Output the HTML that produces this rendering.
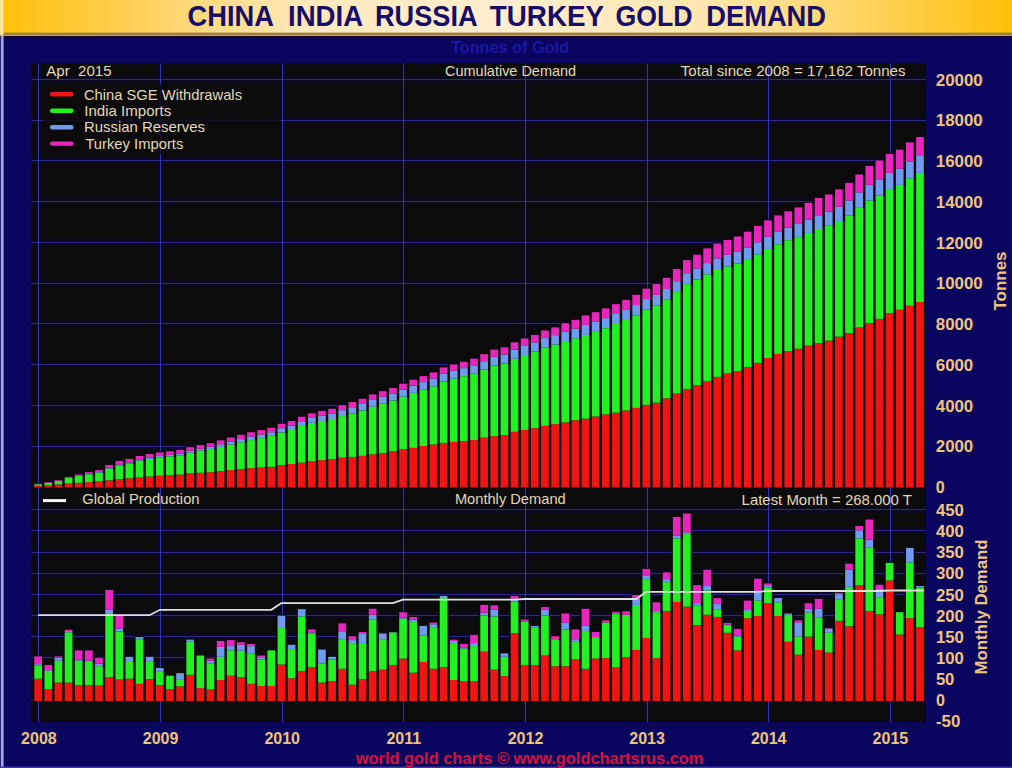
<!DOCTYPE html><html><head><meta charset="utf-8"><style>html,body{margin:0;padding:0;width:1012px;height:768px;overflow:hidden;background:#0a0660;}body{position:relative;font-family:"Liberation Sans",sans-serif;}</style></head><body><svg width="1012" height="768" viewBox="0 0 1012 768" style="position:absolute;left:0;top:0">
<defs><linearGradient id="hg" x1="0" x2="1" y1="0" y2="0"><stop offset="0" stop-color="#ffbf08"/><stop offset="0.12" stop-color="#ffcf50"/><stop offset="0.3" stop-color="#ffe8bc"/><stop offset="0.5" stop-color="#ffeed0"/><stop offset="0.7" stop-color="#ffe6b0"/><stop offset="0.88" stop-color="#ffd050"/><stop offset="1" stop-color="#ffbf08"/></linearGradient><filter id="bl" x="-5%" y="-20%" width="110%" height="140%"><feGaussianBlur stdDeviation="0.7"/></filter></defs>
<rect x="0" y="0" width="1012" height="768" fill="#0a0660"/>
<rect x="0" y="0" width="1012" height="33" fill="url(#hg)"/>
<rect x="0" y="32.6" width="1012" height="2.4" fill="#a0803c"/>
<rect x="0" y="35" width="1012" height="0.9" fill="#e4cc98"/>
<rect x="0" y="35.9" width="1012" height="1.4" fill="#1a0626"/>
<rect x="0" y="0" width="3.5" height="35" fill="#f8e49a"/>
<rect x="0.8" y="36" width="2.8" height="732" fill="#a4a4e4"/>
<rect x="1010.5" y="36" width="1.5" height="732" fill="#100a70"/>
<rect x="0" y="766.6" width="1012" height="1.4" fill="#3c3aa4"/>
<rect x="31.5" y="63.5" width="894.5" height="658.5" fill="#0c0b0c"/>
<g stroke="#0a0920" stroke-width="6"><line x1="31.5" x2="926" y1="446.5" y2="446.5"/><line x1="31.5" x2="926" y1="405.5" y2="405.5"/><line x1="31.5" x2="926" y1="364.5" y2="364.5"/><line x1="31.5" x2="926" y1="323.5" y2="323.5"/><line x1="31.5" x2="926" y1="283.5" y2="283.5"/><line x1="31.5" x2="926" y1="242.5" y2="242.5"/><line x1="31.5" x2="926" y1="201.5" y2="201.5"/><line x1="31.5" x2="926" y1="160.5" y2="160.5"/><line x1="31.5" x2="926" y1="120.5" y2="120.5"/><line x1="31.5" x2="926" y1="79.5" y2="79.5"/><line x1="31.5" x2="926" y1="699.5" y2="699.5"/><line x1="31.5" x2="926" y1="678.5" y2="678.5"/><line x1="31.5" x2="926" y1="657.5" y2="657.5"/><line x1="31.5" x2="926" y1="636.5" y2="636.5"/><line x1="31.5" x2="926" y1="615.5" y2="615.5"/><line x1="31.5" x2="926" y1="594.5" y2="594.5"/><line x1="31.5" x2="926" y1="573.5" y2="573.5"/><line x1="31.5" x2="926" y1="552.5" y2="552.5"/><line x1="31.5" x2="926" y1="530.5" y2="530.5"/><line x1="31.5" x2="926" y1="509.5" y2="509.5"/><line x1="38.5" x2="38.5" y1="63.5" y2="722"/><line x1="160.5" x2="160.5" y1="63.5" y2="722"/><line x1="282.5" x2="282.5" y1="63.5" y2="722"/><line x1="403.5" x2="403.5" y1="63.5" y2="722"/><line x1="525.5" x2="525.5" y1="63.5" y2="722"/><line x1="647.5" x2="647.5" y1="63.5" y2="722"/><line x1="768.5" x2="768.5" y1="63.5" y2="722"/><line x1="890.5" x2="890.5" y1="63.5" y2="722"/></g>
<g stroke="#2c2a84" stroke-width="1"><line x1="31.5" x2="926" y1="446.5" y2="446.5"/><line x1="31.5" x2="926" y1="405.5" y2="405.5"/><line x1="31.5" x2="926" y1="364.5" y2="364.5"/><line x1="31.5" x2="926" y1="323.5" y2="323.5"/><line x1="31.5" x2="926" y1="283.5" y2="283.5"/><line x1="31.5" x2="926" y1="242.5" y2="242.5"/><line x1="31.5" x2="926" y1="201.5" y2="201.5"/><line x1="31.5" x2="926" y1="160.5" y2="160.5"/><line x1="31.5" x2="926" y1="120.5" y2="120.5"/><line x1="31.5" x2="926" y1="79.5" y2="79.5"/><line x1="31.5" x2="926" y1="699.5" y2="699.5"/><line x1="31.5" x2="926" y1="678.5" y2="678.5"/><line x1="31.5" x2="926" y1="657.5" y2="657.5"/><line x1="31.5" x2="926" y1="636.5" y2="636.5"/><line x1="31.5" x2="926" y1="615.5" y2="615.5"/><line x1="31.5" x2="926" y1="594.5" y2="594.5"/><line x1="31.5" x2="926" y1="573.5" y2="573.5"/><line x1="31.5" x2="926" y1="552.5" y2="552.5"/><line x1="31.5" x2="926" y1="530.5" y2="530.5"/><line x1="31.5" x2="926" y1="509.5" y2="509.5"/></g>
<g stroke="#3636a8" stroke-width="1"><line x1="38.5" x2="38.5" y1="63.5" y2="722"/><line x1="160.5" x2="160.5" y1="63.5" y2="722"/><line x1="282.5" x2="282.5" y1="63.5" y2="722"/><line x1="403.5" x2="403.5" y1="63.5" y2="722"/><line x1="525.5" x2="525.5" y1="63.5" y2="722"/><line x1="647.5" x2="647.5" y1="63.5" y2="722"/><line x1="768.5" x2="768.5" y1="63.5" y2="722"/><line x1="890.5" x2="890.5" y1="63.5" y2="722"/></g>
<g fill="#0a0a0a"><rect x="33.00" y="482.78" width="10.3" height="4.72"/><rect x="43.14" y="481.14" width="10.3" height="6.36"/><rect x="53.27" y="479.09" width="10.3" height="8.41"/><rect x="63.41" y="475.78" width="10.3" height="11.72"/><rect x="73.54" y="473.45" width="10.3" height="14.05"/><rect x="83.68" y="471.11" width="10.3" height="16.39"/><rect x="93.82" y="469.12" width="10.3" height="18.38"/><rect x="103.95" y="463.92" width="10.3" height="23.58"/><rect x="114.09" y="459.93" width="10.3" height="27.57"/><rect x="124.22" y="457.91" width="10.3" height="29.59"/><rect x="134.36" y="454.94" width="10.3" height="32.56"/><rect x="144.50" y="452.91" width="10.3" height="34.59"/><rect x="154.63" y="451.41" width="10.3" height="36.09"/><rect x="164.77" y="450.28" width="10.3" height="37.22"/><rect x="174.90" y="449.02" width="10.3" height="38.48"/><rect x="185.04" y="446.18" width="10.3" height="41.32"/><rect x="195.18" y="444.09" width="10.3" height="43.41"/><rect x="205.31" y="442.14" width="10.3" height="45.36"/><rect x="215.45" y="439.36" width="10.3" height="48.14"/><rect x="225.58" y="436.53" width="10.3" height="50.97"/><rect x="235.72" y="433.81" width="10.3" height="53.69"/><rect x="245.86" y="431.17" width="10.3" height="56.33"/><rect x="255.99" y="429.08" width="10.3" height="58.42"/><rect x="266.13" y="426.75" width="10.3" height="60.75"/><rect x="276.26" y="422.76" width="10.3" height="64.74"/><rect x="286.40" y="420.10" width="10.3" height="67.40"/><rect x="296.54" y="415.74" width="10.3" height="71.76"/><rect x="306.67" y="412.34" width="10.3" height="75.16"/><rect x="316.81" y="409.90" width="10.3" height="77.60"/><rect x="326.94" y="407.81" width="10.3" height="79.69"/><rect x="337.08" y="404.12" width="10.3" height="83.38"/><rect x="347.22" y="401.05" width="10.3" height="86.45"/><rect x="357.35" y="397.77" width="10.3" height="89.73"/><rect x="367.49" y="393.40" width="10.3" height="94.10"/><rect x="377.62" y="390.18" width="10.3" height="97.32"/><rect x="387.76" y="386.91" width="10.3" height="100.59"/><rect x="397.90" y="382.69" width="10.3" height="104.81"/><rect x="408.03" y="378.71" width="10.3" height="108.79"/><rect x="418.17" y="375.14" width="10.3" height="112.36"/><rect x="428.30" y="371.42" width="10.3" height="116.08"/><rect x="438.44" y="366.44" width="10.3" height="121.06"/><rect x="448.58" y="363.52" width="10.3" height="123.98"/><rect x="458.71" y="360.82" width="10.3" height="126.68"/><rect x="468.85" y="357.68" width="10.3" height="129.82"/><rect x="478.98" y="353.13" width="10.3" height="134.37"/><rect x="489.12" y="348.59" width="10.3" height="138.91"/><rect x="499.26" y="346.33" width="10.3" height="141.17"/><rect x="509.39" y="341.34" width="10.3" height="146.16"/><rect x="519.53" y="337.48" width="10.3" height="150.02"/><rect x="529.66" y="333.92" width="10.3" height="153.58"/><rect x="539.80" y="329.46" width="10.3" height="158.04"/><rect x="549.94" y="326.39" width="10.3" height="161.11"/><rect x="560.07" y="322.23" width="10.3" height="165.27"/><rect x="570.21" y="318.84" width="10.3" height="168.66"/><rect x="580.34" y="314.46" width="10.3" height="173.04"/><rect x="590.48" y="311.18" width="10.3" height="176.32"/><rect x="600.62" y="307.36" width="10.3" height="180.14"/><rect x="610.75" y="303.13" width="10.3" height="184.37"/><rect x="620.89" y="298.87" width="10.3" height="188.63"/><rect x="631.02" y="293.85" width="10.3" height="193.65"/><rect x="641.16" y="287.58" width="10.3" height="199.92"/><rect x="651.30" y="282.90" width="10.3" height="204.60"/><rect x="661.43" y="276.79" width="10.3" height="210.71"/><rect x="671.57" y="268.06" width="10.3" height="219.44"/><rect x="681.70" y="259.17" width="10.3" height="228.33"/><rect x="691.84" y="253.68" width="10.3" height="233.82"/><rect x="701.98" y="247.45" width="10.3" height="240.05"/><rect x="712.11" y="242.56" width="10.3" height="244.94"/><rect x="722.25" y="238.86" width="10.3" height="248.64"/><rect x="732.38" y="235.44" width="10.3" height="252.06"/><rect x="742.52" y="230.68" width="10.3" height="256.82"/><rect x="752.66" y="224.88" width="10.3" height="262.62"/><rect x="762.79" y="219.30" width="10.3" height="268.20"/><rect x="772.93" y="214.42" width="10.3" height="273.08"/><rect x="783.06" y="210.27" width="10.3" height="277.23"/><rect x="793.20" y="206.44" width="10.3" height="281.06"/><rect x="803.34" y="201.80" width="10.3" height="285.70"/><rect x="813.47" y="196.96" width="10.3" height="290.54"/><rect x="823.61" y="193.50" width="10.3" height="294.00"/><rect x="833.74" y="188.37" width="10.3" height="299.13"/><rect x="843.88" y="181.86" width="10.3" height="305.64"/><rect x="854.02" y="173.56" width="10.3" height="313.94"/><rect x="864.15" y="164.95" width="10.3" height="322.55"/><rect x="874.29" y="159.43" width="10.3" height="328.07"/><rect x="884.42" y="152.88" width="10.3" height="334.62"/><rect x="894.56" y="148.67" width="10.3" height="338.83"/><rect x="904.70" y="141.40" width="10.3" height="346.10"/><rect x="914.83" y="135.95" width="10.3" height="351.55"/></g>
<rect x="34.30" y="485.80" width="7.7" height="1.70" fill="#f01414"/><rect x="34.30" y="484.21" width="7.7" height="1.59" fill="#22f022"/><rect x="34.30" y="484.15" width="7.7" height="0.06" fill="#6e9af0"/><rect x="34.30" y="483.78" width="7.7" height="0.37" fill="#e826be"/><rect x="44.44" y="485.26" width="7.7" height="2.24" fill="#f01414"/><rect x="44.44" y="482.85" width="7.7" height="2.41" fill="#22f022"/><rect x="44.44" y="482.75" width="7.7" height="0.10" fill="#6e9af0"/><rect x="44.44" y="482.14" width="7.7" height="0.61" fill="#e826be"/><rect x="54.57" y="484.41" width="7.7" height="3.09" fill="#f01414"/><rect x="54.57" y="481.01" width="7.7" height="3.40" fill="#22f022"/><rect x="54.57" y="480.76" width="7.7" height="0.24" fill="#6e9af0"/><rect x="54.57" y="480.09" width="7.7" height="0.67" fill="#e826be"/><rect x="64.71" y="483.56" width="7.7" height="3.94" fill="#f01414"/><rect x="64.71" y="477.82" width="7.7" height="5.74" fill="#22f022"/><rect x="64.71" y="477.51" width="7.7" height="0.31" fill="#6e9af0"/><rect x="64.71" y="476.78" width="7.7" height="0.73" fill="#e826be"/><rect x="74.84" y="482.84" width="7.7" height="4.66" fill="#f01414"/><rect x="74.84" y="475.97" width="7.7" height="6.86" fill="#22f022"/><rect x="74.84" y="475.63" width="7.7" height="0.35" fill="#6e9af0"/><rect x="74.84" y="474.45" width="7.7" height="1.18" fill="#e826be"/><rect x="84.98" y="482.11" width="7.7" height="5.39" fill="#f01414"/><rect x="84.98" y="474.19" width="7.7" height="7.92" fill="#22f022"/><rect x="84.98" y="473.78" width="7.7" height="0.41" fill="#6e9af0"/><rect x="84.98" y="472.11" width="7.7" height="1.67" fill="#e826be"/><rect x="95.12" y="481.40" width="7.7" height="6.10" fill="#f01414"/><rect x="95.12" y="472.60" width="7.7" height="8.80" fill="#22f022"/><rect x="95.12" y="472.08" width="7.7" height="0.53" fill="#6e9af0"/><rect x="95.12" y="470.12" width="7.7" height="1.95" fill="#e826be"/><rect x="105.25" y="480.31" width="7.7" height="7.19" fill="#f01414"/><rect x="105.25" y="468.54" width="7.7" height="11.77" fill="#22f022"/><rect x="105.25" y="467.81" width="7.7" height="0.73" fill="#6e9af0"/><rect x="105.25" y="464.92" width="7.7" height="2.89" fill="#e826be"/><rect x="115.39" y="479.32" width="7.7" height="8.18" fill="#f01414"/><rect x="115.39" y="465.31" width="7.7" height="14.01" fill="#22f022"/><rect x="115.39" y="464.43" width="7.7" height="0.88" fill="#6e9af0"/><rect x="115.39" y="460.93" width="7.7" height="3.50" fill="#e826be"/><rect x="125.52" y="478.29" width="7.7" height="9.21" fill="#f01414"/><rect x="125.52" y="463.52" width="7.7" height="14.76" fill="#22f022"/><rect x="125.52" y="462.41" width="7.7" height="1.12" fill="#6e9af0"/><rect x="125.52" y="458.91" width="7.7" height="3.50" fill="#e826be"/><rect x="135.66" y="477.50" width="7.7" height="10.00" fill="#f01414"/><rect x="135.66" y="460.66" width="7.7" height="16.84" fill="#22f022"/><rect x="135.66" y="459.44" width="7.7" height="1.22" fill="#6e9af0"/><rect x="135.66" y="455.94" width="7.7" height="3.50" fill="#e826be"/><rect x="145.80" y="476.49" width="7.7" height="11.01" fill="#f01414"/><rect x="145.80" y="458.88" width="7.7" height="17.61" fill="#22f022"/><rect x="145.80" y="457.41" width="7.7" height="1.47" fill="#6e9af0"/><rect x="145.80" y="453.91" width="7.7" height="3.50" fill="#e826be"/><rect x="155.93" y="475.76" width="7.7" height="11.74" fill="#f01414"/><rect x="155.93" y="457.56" width="7.7" height="18.20" fill="#22f022"/><rect x="155.93" y="455.91" width="7.7" height="1.65" fill="#6e9af0"/><rect x="155.93" y="452.41" width="7.7" height="3.50" fill="#e826be"/><rect x="166.07" y="475.22" width="7.7" height="12.28" fill="#f01414"/><rect x="166.07" y="456.42" width="7.7" height="18.80" fill="#22f022"/><rect x="166.07" y="454.78" width="7.7" height="1.65" fill="#6e9af0"/><rect x="166.07" y="451.28" width="7.7" height="3.50" fill="#e826be"/><rect x="176.20" y="474.56" width="7.7" height="12.94" fill="#f01414"/><rect x="176.20" y="455.45" width="7.7" height="19.10" fill="#22f022"/><rect x="176.20" y="453.52" width="7.7" height="1.93" fill="#6e9af0"/><rect x="176.20" y="450.02" width="7.7" height="3.50" fill="#e826be"/><rect x="186.34" y="473.34" width="7.7" height="14.16" fill="#f01414"/><rect x="186.34" y="452.71" width="7.7" height="20.63" fill="#22f022"/><rect x="186.34" y="450.68" width="7.7" height="2.04" fill="#6e9af0"/><rect x="186.34" y="447.18" width="7.7" height="3.50" fill="#e826be"/><rect x="196.48" y="472.76" width="7.7" height="14.74" fill="#f01414"/><rect x="196.48" y="450.62" width="7.7" height="22.14" fill="#22f022"/><rect x="196.48" y="448.59" width="7.7" height="2.03" fill="#6e9af0"/><rect x="196.48" y="445.09" width="7.7" height="3.50" fill="#e826be"/><rect x="206.61" y="472.23" width="7.7" height="15.27" fill="#f01414"/><rect x="206.61" y="448.92" width="7.7" height="23.32" fill="#22f022"/><rect x="206.61" y="446.74" width="7.7" height="2.18" fill="#6e9af0"/><rect x="206.61" y="443.14" width="7.7" height="3.60" fill="#e826be"/><rect x="216.75" y="471.26" width="7.7" height="16.24" fill="#f01414"/><rect x="216.75" y="446.89" width="7.7" height="24.38" fill="#22f022"/><rect x="216.75" y="444.24" width="7.7" height="2.65" fill="#6e9af0"/><rect x="216.75" y="440.36" width="7.7" height="3.89" fill="#e826be"/><rect x="226.88" y="470.09" width="7.7" height="17.41" fill="#f01414"/><rect x="226.88" y="444.55" width="7.7" height="25.54" fill="#22f022"/><rect x="226.88" y="441.70" width="7.7" height="2.85" fill="#6e9af0"/><rect x="226.88" y="437.53" width="7.7" height="4.17" fill="#e826be"/><rect x="237.02" y="468.98" width="7.7" height="18.52" fill="#f01414"/><rect x="237.02" y="442.24" width="7.7" height="26.74" fill="#22f022"/><rect x="237.02" y="439.11" width="7.7" height="3.13" fill="#6e9af0"/><rect x="237.02" y="434.81" width="7.7" height="4.29" fill="#e826be"/><rect x="247.16" y="468.19" width="7.7" height="19.31" fill="#f01414"/><rect x="247.16" y="440.07" width="7.7" height="28.12" fill="#22f022"/><rect x="247.16" y="436.57" width="7.7" height="3.50" fill="#6e9af0"/><rect x="247.16" y="432.17" width="7.7" height="4.40" fill="#e826be"/><rect x="257.29" y="467.50" width="7.7" height="20.00" fill="#f01414"/><rect x="257.29" y="438.16" width="7.7" height="29.34" fill="#22f022"/><rect x="257.29" y="434.56" width="7.7" height="3.60" fill="#6e9af0"/><rect x="257.29" y="430.08" width="7.7" height="4.48" fill="#e826be"/><rect x="267.43" y="466.82" width="7.7" height="20.68" fill="#f01414"/><rect x="267.43" y="435.83" width="7.7" height="30.99" fill="#22f022"/><rect x="267.43" y="432.22" width="7.7" height="3.60" fill="#6e9af0"/><rect x="267.43" y="427.75" width="7.7" height="4.48" fill="#e826be"/><rect x="277.56" y="465.12" width="7.7" height="22.38" fill="#f01414"/><rect x="277.56" y="432.43" width="7.7" height="32.68" fill="#22f022"/><rect x="277.56" y="428.24" width="7.7" height="4.19" fill="#6e9af0"/><rect x="277.56" y="423.76" width="7.7" height="4.48" fill="#e826be"/><rect x="287.70" y="464.04" width="7.7" height="23.46" fill="#f01414"/><rect x="287.70" y="429.97" width="7.7" height="34.07" fill="#22f022"/><rect x="287.70" y="425.57" width="7.7" height="4.40" fill="#6e9af0"/><rect x="287.70" y="421.10" width="7.7" height="4.48" fill="#e826be"/><rect x="297.84" y="462.61" width="7.7" height="24.89" fill="#f01414"/><rect x="297.84" y="425.96" width="7.7" height="36.65" fill="#22f022"/><rect x="297.84" y="421.22" width="7.7" height="4.74" fill="#6e9af0"/><rect x="297.84" y="416.74" width="7.7" height="4.48" fill="#e826be"/><rect x="307.97" y="461.00" width="7.7" height="26.50" fill="#f01414"/><rect x="307.97" y="422.77" width="7.7" height="38.24" fill="#22f022"/><rect x="307.97" y="417.96" width="7.7" height="4.80" fill="#6e9af0"/><rect x="307.97" y="413.34" width="7.7" height="4.62" fill="#e826be"/><rect x="318.11" y="460.13" width="7.7" height="27.37" fill="#f01414"/><rect x="318.11" y="421.00" width="7.7" height="39.13" fill="#22f022"/><rect x="318.11" y="415.52" width="7.7" height="5.47" fill="#6e9af0"/><rect x="318.11" y="410.90" width="7.7" height="4.62" fill="#e826be"/><rect x="328.24" y="459.19" width="7.7" height="28.31" fill="#f01414"/><rect x="328.24" y="419.02" width="7.7" height="40.17" fill="#22f022"/><rect x="328.24" y="413.43" width="7.7" height="5.60" fill="#6e9af0"/><rect x="328.24" y="408.81" width="7.7" height="4.62" fill="#e826be"/><rect x="338.38" y="457.67" width="7.7" height="29.83" fill="#f01414"/><rect x="338.38" y="416.09" width="7.7" height="41.58" fill="#22f022"/><rect x="338.38" y="410.15" width="7.7" height="5.94" fill="#6e9af0"/><rect x="338.38" y="405.12" width="7.7" height="5.03" fill="#e826be"/><rect x="348.52" y="456.89" width="7.7" height="30.61" fill="#f01414"/><rect x="348.52" y="413.34" width="7.7" height="43.55" fill="#22f022"/><rect x="348.52" y="407.26" width="7.7" height="6.08" fill="#6e9af0"/><rect x="348.52" y="402.05" width="7.7" height="5.21" fill="#e826be"/><rect x="358.65" y="455.86" width="7.7" height="31.64" fill="#f01414"/><rect x="358.65" y="410.60" width="7.7" height="45.26" fill="#22f022"/><rect x="358.65" y="404.04" width="7.7" height="6.55" fill="#6e9af0"/><rect x="358.65" y="398.77" width="7.7" height="5.27" fill="#e826be"/><rect x="368.79" y="454.43" width="7.7" height="33.07" fill="#f01414"/><rect x="368.79" y="406.73" width="7.7" height="47.70" fill="#22f022"/><rect x="368.79" y="399.95" width="7.7" height="6.78" fill="#6e9af0"/><rect x="368.79" y="394.40" width="7.7" height="5.56" fill="#e826be"/><rect x="378.92" y="452.95" width="7.7" height="34.55" fill="#f01414"/><rect x="378.92" y="403.80" width="7.7" height="49.15" fill="#22f022"/><rect x="378.92" y="396.78" width="7.7" height="7.02" fill="#6e9af0"/><rect x="378.92" y="391.18" width="7.7" height="5.60" fill="#e826be"/><rect x="389.06" y="451.24" width="7.7" height="36.26" fill="#f01414"/><rect x="389.06" y="400.54" width="7.7" height="50.69" fill="#22f022"/><rect x="389.06" y="393.50" width="7.7" height="7.04" fill="#6e9af0"/><rect x="389.06" y="387.91" width="7.7" height="5.60" fill="#e826be"/><rect x="399.20" y="449.22" width="7.7" height="38.28" fill="#f01414"/><rect x="399.20" y="396.64" width="7.7" height="52.58" fill="#22f022"/><rect x="399.20" y="389.56" width="7.7" height="7.08" fill="#6e9af0"/><rect x="399.20" y="383.69" width="7.7" height="5.86" fill="#e826be"/><rect x="409.33" y="447.88" width="7.7" height="39.62" fill="#f01414"/><rect x="409.33" y="392.89" width="7.7" height="54.99" fill="#22f022"/><rect x="409.33" y="385.69" width="7.7" height="7.20" fill="#6e9af0"/><rect x="409.33" y="379.71" width="7.7" height="5.98" fill="#e826be"/><rect x="419.47" y="446.03" width="7.7" height="41.47" fill="#f01414"/><rect x="419.47" y="389.78" width="7.7" height="56.25" fill="#22f022"/><rect x="419.47" y="382.13" width="7.7" height="7.65" fill="#6e9af0"/><rect x="419.47" y="376.14" width="7.7" height="5.98" fill="#e826be"/><rect x="429.60" y="444.50" width="7.7" height="43.00" fill="#f01414"/><rect x="429.60" y="386.28" width="7.7" height="58.22" fill="#22f022"/><rect x="429.60" y="378.49" width="7.7" height="7.79" fill="#6e9af0"/><rect x="429.60" y="372.42" width="7.7" height="6.06" fill="#e826be"/><rect x="439.74" y="442.89" width="7.7" height="44.61" fill="#f01414"/><rect x="439.74" y="381.40" width="7.7" height="61.50" fill="#22f022"/><rect x="439.74" y="373.50" width="7.7" height="7.90" fill="#6e9af0"/><rect x="439.74" y="367.44" width="7.7" height="6.06" fill="#e826be"/><rect x="449.88" y="441.90" width="7.7" height="45.60" fill="#f01414"/><rect x="449.88" y="378.69" width="7.7" height="63.21" fill="#22f022"/><rect x="449.88" y="370.65" width="7.7" height="8.04" fill="#6e9af0"/><rect x="449.88" y="364.52" width="7.7" height="6.13" fill="#e826be"/><rect x="460.01" y="440.96" width="7.7" height="46.54" fill="#f01414"/><rect x="460.01" y="376.21" width="7.7" height="64.75" fill="#22f022"/><rect x="460.01" y="368.13" width="7.7" height="8.08" fill="#6e9af0"/><rect x="460.01" y="361.82" width="7.7" height="6.31" fill="#e826be"/><rect x="470.15" y="440.02" width="7.7" height="47.48" fill="#f01414"/><rect x="470.15" y="373.60" width="7.7" height="66.42" fill="#22f022"/><rect x="470.15" y="365.38" width="7.7" height="8.22" fill="#6e9af0"/><rect x="470.15" y="358.68" width="7.7" height="6.70" fill="#e826be"/><rect x="480.28" y="437.68" width="7.7" height="49.82" fill="#f01414"/><rect x="480.28" y="369.55" width="7.7" height="68.13" fill="#22f022"/><rect x="480.28" y="361.19" width="7.7" height="8.36" fill="#6e9af0"/><rect x="480.28" y="354.13" width="7.7" height="7.06" fill="#e826be"/><rect x="490.42" y="436.20" width="7.7" height="51.30" fill="#f01414"/><rect x="490.42" y="365.54" width="7.7" height="70.66" fill="#22f022"/><rect x="490.42" y="356.85" width="7.7" height="8.69" fill="#6e9af0"/><rect x="490.42" y="349.59" width="7.7" height="7.26" fill="#e826be"/><rect x="500.56" y="435.02" width="7.7" height="52.48" fill="#f01414"/><rect x="500.56" y="363.45" width="7.7" height="71.57" fill="#22f022"/><rect x="500.56" y="354.59" width="7.7" height="8.85" fill="#6e9af0"/><rect x="500.56" y="347.33" width="7.7" height="7.26" fill="#e826be"/><rect x="510.69" y="431.80" width="7.7" height="55.70" fill="#f01414"/><rect x="510.69" y="358.73" width="7.7" height="73.08" fill="#22f022"/><rect x="510.69" y="349.75" width="7.7" height="8.97" fill="#6e9af0"/><rect x="510.69" y="342.34" width="7.7" height="7.41" fill="#e826be"/><rect x="520.83" y="429.98" width="7.7" height="57.52" fill="#f01414"/><rect x="520.83" y="354.96" width="7.7" height="75.02" fill="#22f022"/><rect x="520.83" y="345.97" width="7.7" height="8.99" fill="#6e9af0"/><rect x="520.83" y="338.48" width="7.7" height="7.49" fill="#e826be"/><rect x="530.96" y="428.16" width="7.7" height="59.34" fill="#f01414"/><rect x="530.96" y="351.46" width="7.7" height="76.70" fill="#22f022"/><rect x="530.96" y="342.40" width="7.7" height="9.06" fill="#6e9af0"/><rect x="530.96" y="334.92" width="7.7" height="7.49" fill="#e826be"/><rect x="541.10" y="425.89" width="7.7" height="61.61" fill="#f01414"/><rect x="541.10" y="347.41" width="7.7" height="78.48" fill="#22f022"/><rect x="541.10" y="338.07" width="7.7" height="9.34" fill="#6e9af0"/><rect x="541.10" y="330.46" width="7.7" height="7.61" fill="#e826be"/><rect x="551.24" y="424.13" width="7.7" height="63.37" fill="#f01414"/><rect x="551.24" y="344.48" width="7.7" height="79.65" fill="#22f022"/><rect x="551.24" y="335.14" width="7.7" height="9.34" fill="#6e9af0"/><rect x="551.24" y="327.39" width="7.7" height="7.75" fill="#e826be"/><rect x="561.37" y="422.37" width="7.7" height="65.13" fill="#f01414"/><rect x="561.37" y="341.08" width="7.7" height="81.29" fill="#22f022"/><rect x="561.37" y="331.42" width="7.7" height="9.67" fill="#6e9af0"/><rect x="561.37" y="323.23" width="7.7" height="8.18" fill="#e826be"/><rect x="571.51" y="420.28" width="7.7" height="67.22" fill="#f01414"/><rect x="571.51" y="338.27" width="7.7" height="82.01" fill="#22f022"/><rect x="571.51" y="328.49" width="7.7" height="9.79" fill="#6e9af0"/><rect x="571.51" y="319.84" width="7.7" height="8.65" fill="#e826be"/><rect x="581.64" y="418.64" width="7.7" height="68.86" fill="#f01414"/><rect x="581.64" y="334.96" width="7.7" height="83.69" fill="#22f022"/><rect x="581.64" y="324.90" width="7.7" height="10.05" fill="#6e9af0"/><rect x="581.64" y="315.46" width="7.7" height="9.44" fill="#e826be"/><rect x="591.78" y="416.51" width="7.7" height="70.99" fill="#f01414"/><rect x="591.78" y="331.92" width="7.7" height="84.59" fill="#22f022"/><rect x="591.78" y="321.87" width="7.7" height="10.05" fill="#6e9af0"/><rect x="591.78" y="312.18" width="7.7" height="9.69" fill="#e826be"/><rect x="601.92" y="414.37" width="7.7" height="73.13" fill="#f01414"/><rect x="601.92" y="328.20" width="7.7" height="86.17" fill="#22f022"/><rect x="601.92" y="318.15" width="7.7" height="10.05" fill="#6e9af0"/><rect x="601.92" y="308.36" width="7.7" height="9.79" fill="#e826be"/><rect x="612.05" y="412.67" width="7.7" height="74.83" fill="#f01414"/><rect x="612.05" y="324.05" width="7.7" height="88.62" fill="#22f022"/><rect x="612.05" y="314.00" width="7.7" height="10.05" fill="#6e9af0"/><rect x="612.05" y="304.13" width="7.7" height="9.87" fill="#e826be"/><rect x="622.19" y="410.48" width="7.7" height="77.02" fill="#f01414"/><rect x="622.19" y="319.96" width="7.7" height="90.52" fill="#22f022"/><rect x="622.19" y="309.91" width="7.7" height="10.05" fill="#6e9af0"/><rect x="622.19" y="299.87" width="7.7" height="10.03" fill="#e826be"/><rect x="632.32" y="407.94" width="7.7" height="79.56" fill="#f01414"/><rect x="632.32" y="315.40" width="7.7" height="92.54" fill="#22f022"/><rect x="632.32" y="305.06" width="7.7" height="10.34" fill="#6e9af0"/><rect x="632.32" y="294.85" width="7.7" height="10.22" fill="#e826be"/><rect x="642.46" y="404.84" width="7.7" height="82.66" fill="#f01414"/><rect x="642.46" y="309.62" width="7.7" height="95.22" fill="#22f022"/><rect x="642.46" y="299.10" width="7.7" height="10.52" fill="#6e9af0"/><rect x="642.46" y="288.58" width="7.7" height="10.52" fill="#e826be"/><rect x="652.60" y="402.69" width="7.7" height="84.81" fill="#f01414"/><rect x="652.60" y="305.41" width="7.7" height="97.29" fill="#22f022"/><rect x="652.60" y="294.83" width="7.7" height="10.58" fill="#6e9af0"/><rect x="652.60" y="283.90" width="7.7" height="10.93" fill="#e826be"/><rect x="662.73" y="398.31" width="7.7" height="89.19" fill="#f01414"/><rect x="662.73" y="299.77" width="7.7" height="98.54" fill="#22f022"/><rect x="662.73" y="289.05" width="7.7" height="10.72" fill="#6e9af0"/><rect x="662.73" y="277.79" width="7.7" height="11.25" fill="#e826be"/><rect x="672.87" y="393.49" width="7.7" height="94.01" fill="#f01414"/><rect x="672.87" y="292.06" width="7.7" height="101.44" fill="#22f022"/><rect x="672.87" y="281.19" width="7.7" height="10.87" fill="#6e9af0"/><rect x="672.87" y="269.06" width="7.7" height="12.13" fill="#e826be"/><rect x="683.00" y="388.90" width="7.7" height="98.60" fill="#f01414"/><rect x="683.00" y="284.14" width="7.7" height="104.76" fill="#22f022"/><rect x="683.00" y="273.19" width="7.7" height="10.95" fill="#6e9af0"/><rect x="683.00" y="260.17" width="7.7" height="13.02" fill="#e826be"/><rect x="693.14" y="385.19" width="7.7" height="102.31" fill="#f01414"/><rect x="693.14" y="279.60" width="7.7" height="105.59" fill="#22f022"/><rect x="693.14" y="268.55" width="7.7" height="11.05" fill="#6e9af0"/><rect x="693.14" y="254.68" width="7.7" height="13.88" fill="#e826be"/><rect x="703.28" y="380.99" width="7.7" height="106.51" fill="#f01414"/><rect x="703.28" y="274.35" width="7.7" height="106.63" fill="#22f022"/><rect x="703.28" y="263.10" width="7.7" height="11.25" fill="#6e9af0"/><rect x="703.28" y="248.45" width="7.7" height="14.65" fill="#e826be"/><rect x="713.41" y="376.89" width="7.7" height="110.61" fill="#f01414"/><rect x="713.41" y="270.00" width="7.7" height="106.89" fill="#22f022"/><rect x="713.41" y="258.50" width="7.7" height="11.50" fill="#6e9af0"/><rect x="713.41" y="243.56" width="7.7" height="14.94" fill="#e826be"/><rect x="723.55" y="373.54" width="7.7" height="113.96" fill="#f01414"/><rect x="723.55" y="266.44" width="7.7" height="107.10" fill="#22f022"/><rect x="723.55" y="254.88" width="7.7" height="11.56" fill="#6e9af0"/><rect x="723.55" y="239.86" width="7.7" height="15.02" fill="#e826be"/><rect x="733.68" y="371.02" width="7.7" height="116.48" fill="#f01414"/><rect x="733.68" y="263.39" width="7.7" height="107.64" fill="#22f022"/><rect x="733.68" y="251.77" width="7.7" height="11.62" fill="#6e9af0"/><rect x="733.68" y="236.44" width="7.7" height="15.32" fill="#e826be"/><rect x="743.82" y="366.98" width="7.7" height="120.52" fill="#f01414"/><rect x="743.82" y="259.11" width="7.7" height="107.87" fill="#22f022"/><rect x="743.82" y="247.41" width="7.7" height="11.70" fill="#6e9af0"/><rect x="743.82" y="231.68" width="7.7" height="15.73" fill="#e826be"/><rect x="753.96" y="362.84" width="7.7" height="124.66" fill="#f01414"/><rect x="753.96" y="254.35" width="7.7" height="108.49" fill="#22f022"/><rect x="753.96" y="242.22" width="7.7" height="12.13" fill="#6e9af0"/><rect x="753.96" y="225.88" width="7.7" height="16.34" fill="#e826be"/><rect x="764.09" y="358.09" width="7.7" height="129.41" fill="#f01414"/><rect x="764.09" y="248.96" width="7.7" height="109.13" fill="#22f022"/><rect x="764.09" y="236.73" width="7.7" height="12.23" fill="#6e9af0"/><rect x="764.09" y="220.30" width="7.7" height="16.42" fill="#e826be"/><rect x="774.23" y="353.95" width="7.7" height="133.55" fill="#f01414"/><rect x="774.23" y="244.28" width="7.7" height="109.67" fill="#22f022"/><rect x="774.23" y="231.84" width="7.7" height="12.43" fill="#6e9af0"/><rect x="774.23" y="215.42" width="7.7" height="16.42" fill="#e826be"/><rect x="784.36" y="351.03" width="7.7" height="136.47" fill="#f01414"/><rect x="784.36" y="240.19" width="7.7" height="110.84" fill="#22f022"/><rect x="784.36" y="227.69" width="7.7" height="12.49" fill="#6e9af0"/><rect x="784.36" y="211.27" width="7.7" height="16.42" fill="#e826be"/><rect x="794.50" y="348.72" width="7.7" height="138.78" fill="#f01414"/><rect x="794.50" y="237.13" width="7.7" height="111.58" fill="#22f022"/><rect x="794.50" y="223.99" width="7.7" height="13.15" fill="#6e9af0"/><rect x="794.50" y="207.44" width="7.7" height="16.54" fill="#e826be"/><rect x="804.64" y="345.55" width="7.7" height="141.95" fill="#f01414"/><rect x="804.64" y="232.94" width="7.7" height="112.61" fill="#22f022"/><rect x="804.64" y="219.61" width="7.7" height="13.33" fill="#6e9af0"/><rect x="804.64" y="202.80" width="7.7" height="16.81" fill="#e826be"/><rect x="814.77" y="343.02" width="7.7" height="144.48" fill="#f01414"/><rect x="814.77" y="228.99" width="7.7" height="114.02" fill="#22f022"/><rect x="814.77" y="215.24" width="7.7" height="13.76" fill="#6e9af0"/><rect x="814.77" y="197.96" width="7.7" height="17.28" fill="#e826be"/><rect x="824.91" y="340.61" width="7.7" height="146.89" fill="#f01414"/><rect x="824.91" y="225.76" width="7.7" height="114.85" fill="#22f022"/><rect x="824.91" y="211.80" width="7.7" height="13.96" fill="#6e9af0"/><rect x="824.91" y="194.50" width="7.7" height="17.30" fill="#e826be"/><rect x="835.04" y="336.69" width="7.7" height="150.81" fill="#f01414"/><rect x="835.04" y="220.96" width="7.7" height="115.73" fill="#22f022"/><rect x="835.04" y="206.73" width="7.7" height="14.22" fill="#6e9af0"/><rect x="835.04" y="189.37" width="7.7" height="17.36" fill="#e826be"/><rect x="845.18" y="333.03" width="7.7" height="154.47" fill="#f01414"/><rect x="845.18" y="215.54" width="7.7" height="117.49" fill="#22f022"/><rect x="845.18" y="200.50" width="7.7" height="15.04" fill="#6e9af0"/><rect x="845.18" y="182.86" width="7.7" height="17.64" fill="#e826be"/><rect x="855.32" y="327.43" width="7.7" height="160.07" fill="#f01414"/><rect x="855.32" y="207.83" width="7.7" height="119.60" fill="#22f022"/><rect x="855.32" y="192.40" width="7.7" height="15.43" fill="#6e9af0"/><rect x="855.32" y="174.56" width="7.7" height="17.85" fill="#e826be"/><rect x="865.45" y="323.04" width="7.7" height="164.46" fill="#f01414"/><rect x="865.45" y="200.56" width="7.7" height="122.48" fill="#22f022"/><rect x="865.45" y="184.75" width="7.7" height="15.81" fill="#6e9af0"/><rect x="865.45" y="165.95" width="7.7" height="18.80" fill="#e826be"/><rect x="875.59" y="318.82" width="7.7" height="168.68" fill="#f01414"/><rect x="875.59" y="195.64" width="7.7" height="123.18" fill="#22f022"/><rect x="875.59" y="179.44" width="7.7" height="16.20" fill="#6e9af0"/><rect x="875.59" y="160.43" width="7.7" height="19.01" fill="#e826be"/><rect x="885.72" y="312.99" width="7.7" height="174.51" fill="#f01414"/><rect x="885.72" y="189.09" width="7.7" height="123.90" fill="#22f022"/><rect x="885.72" y="172.89" width="7.7" height="16.20" fill="#6e9af0"/><rect x="885.72" y="153.88" width="7.7" height="19.01" fill="#e826be"/><rect x="895.86" y="309.72" width="7.7" height="177.78" fill="#f01414"/><rect x="895.86" y="184.88" width="7.7" height="124.85" fill="#22f022"/><rect x="895.86" y="168.68" width="7.7" height="16.20" fill="#6e9af0"/><rect x="895.86" y="149.67" width="7.7" height="19.01" fill="#e826be"/><rect x="906.00" y="305.68" width="7.7" height="181.82" fill="#f01414"/><rect x="906.00" y="178.30" width="7.7" height="127.38" fill="#22f022"/><rect x="906.00" y="161.41" width="7.7" height="16.89" fill="#6e9af0"/><rect x="906.00" y="142.40" width="7.7" height="19.01" fill="#e826be"/><rect x="916.13" y="302.07" width="7.7" height="185.43" fill="#f01414"/><rect x="916.13" y="172.91" width="7.7" height="129.16" fill="#22f022"/><rect x="916.13" y="155.96" width="7.7" height="16.95" fill="#6e9af0"/><rect x="916.13" y="136.95" width="7.7" height="19.01" fill="#e826be"/>
<g fill="#0a0a0a"><rect x="33.00" y="655.38" width="10.3" height="45.62"/><rect x="43.14" y="663.96" width="10.3" height="37.04"/><rect x="53.27" y="655.38" width="10.3" height="45.62"/><rect x="63.41" y="628.79" width="10.3" height="72.21"/><rect x="73.54" y="649.38" width="10.3" height="51.62"/><rect x="83.68" y="649.38" width="10.3" height="51.62"/><rect x="93.82" y="656.67" width="10.3" height="44.33"/><rect x="103.95" y="588.89" width="10.3" height="112.11"/><rect x="114.09" y="614.63" width="10.3" height="86.37"/><rect x="124.22" y="655.81" width="10.3" height="45.19"/><rect x="134.36" y="636.08" width="10.3" height="64.92"/><rect x="144.50" y="655.81" width="10.3" height="45.19"/><rect x="154.63" y="666.97" width="10.3" height="34.03"/><rect x="164.77" y="674.69" width="10.3" height="26.31"/><rect x="174.90" y="672.12" width="10.3" height="28.88"/><rect x="185.04" y="638.65" width="10.3" height="62.35"/><rect x="195.18" y="654.53" width="10.3" height="46.47"/><rect x="205.31" y="657.53" width="10.3" height="43.47"/><rect x="215.45" y="639.94" width="10.3" height="61.06"/><rect x="225.58" y="639.08" width="10.3" height="61.92"/><rect x="235.72" y="641.23" width="10.3" height="59.77"/><rect x="245.86" y="642.94" width="10.3" height="58.06"/><rect x="255.99" y="654.53" width="10.3" height="46.47"/><rect x="266.13" y="649.38" width="10.3" height="51.62"/><rect x="276.26" y="614.63" width="10.3" height="86.37"/><rect x="286.40" y="643.80" width="10.3" height="57.20"/><rect x="296.54" y="608.19" width="10.3" height="92.81"/><rect x="306.67" y="628.36" width="10.3" height="72.64"/><rect x="316.81" y="648.52" width="10.3" height="52.48"/><rect x="326.94" y="655.81" width="10.3" height="45.19"/><rect x="337.08" y="622.35" width="10.3" height="78.65"/><rect x="347.22" y="635.22" width="10.3" height="65.78"/><rect x="357.35" y="630.93" width="10.3" height="70.07"/><rect x="367.49" y="607.76" width="10.3" height="93.24"/><rect x="377.62" y="632.22" width="10.3" height="68.78"/><rect x="387.76" y="630.93" width="10.3" height="70.07"/><rect x="397.90" y="611.20" width="10.3" height="89.80"/><rect x="408.03" y="615.92" width="10.3" height="85.08"/><rect x="418.17" y="624.92" width="10.3" height="76.08"/><rect x="428.30" y="621.49" width="10.3" height="79.51"/><rect x="438.44" y="594.89" width="10.3" height="106.11"/><rect x="448.58" y="638.65" width="10.3" height="62.35"/><rect x="458.71" y="642.94" width="10.3" height="58.06"/><rect x="468.85" y="633.93" width="10.3" height="67.07"/><rect x="478.98" y="603.90" width="10.3" height="97.10"/><rect x="489.12" y="604.33" width="10.3" height="96.67"/><rect x="499.26" y="652.38" width="10.3" height="48.62"/><rect x="509.39" y="594.89" width="10.3" height="106.11"/><rect x="519.53" y="618.49" width="10.3" height="82.51"/><rect x="529.66" y="624.92" width="10.3" height="76.08"/><rect x="539.80" y="606.05" width="10.3" height="94.95"/><rect x="549.94" y="635.22" width="10.3" height="65.78"/><rect x="560.07" y="612.48" width="10.3" height="88.52"/><rect x="570.21" y="628.36" width="10.3" height="72.64"/><rect x="580.34" y="607.76" width="10.3" height="93.24"/><rect x="590.48" y="630.93" width="10.3" height="70.07"/><rect x="600.62" y="619.35" width="10.3" height="81.65"/><rect x="610.75" y="610.77" width="10.3" height="90.23"/><rect x="620.89" y="610.34" width="10.3" height="90.66"/><rect x="631.02" y="594.04" width="10.3" height="106.96"/><rect x="641.16" y="567.87" width="10.3" height="133.13"/><rect x="651.30" y="601.33" width="10.3" height="99.67"/><rect x="661.43" y="571.30" width="10.3" height="129.70"/><rect x="671.57" y="515.96" width="10.3" height="185.04"/><rect x="681.70" y="512.53" width="10.3" height="188.47"/><rect x="691.84" y="584.17" width="10.3" height="116.83"/><rect x="701.98" y="568.73" width="10.3" height="132.27"/><rect x="712.11" y="597.04" width="10.3" height="103.96"/><rect x="722.25" y="621.92" width="10.3" height="79.08"/><rect x="732.38" y="627.93" width="10.3" height="73.07"/><rect x="742.52" y="599.61" width="10.3" height="101.39"/><rect x="752.66" y="577.74" width="10.3" height="123.26"/><rect x="762.79" y="582.45" width="10.3" height="118.55"/><rect x="772.93" y="597.04" width="10.3" height="103.96"/><rect x="783.06" y="612.48" width="10.3" height="88.52"/><rect x="793.20" y="619.35" width="10.3" height="81.65"/><rect x="803.34" y="602.19" width="10.3" height="98.81"/><rect x="813.47" y="597.90" width="10.3" height="103.10"/><rect x="823.61" y="627.07" width="10.3" height="73.93"/><rect x="833.74" y="591.89" width="10.3" height="109.11"/><rect x="843.88" y="562.72" width="10.3" height="138.28"/><rect x="854.02" y="524.97" width="10.3" height="176.03"/><rect x="864.15" y="518.53" width="10.3" height="182.47"/><rect x="874.29" y="583.74" width="10.3" height="117.26"/><rect x="884.42" y="561.86" width="10.3" height="139.14"/><rect x="894.56" y="611.20" width="10.3" height="89.80"/><rect x="904.70" y="546.85" width="10.3" height="154.15"/><rect x="914.83" y="585.03" width="10.3" height="115.97"/></g>
<rect x="34.30" y="678.69" width="7.7" height="22.31" fill="#f01414"/><rect x="34.30" y="665.39" width="7.7" height="13.30" fill="#22f022"/><rect x="34.30" y="664.11" width="7.7" height="1.29" fill="#6e9af0"/><rect x="34.30" y="656.38" width="7.7" height="7.72" fill="#e826be"/><rect x="44.44" y="688.99" width="7.7" height="12.01" fill="#f01414"/><rect x="44.44" y="670.97" width="7.7" height="18.02" fill="#22f022"/><rect x="44.44" y="670.11" width="7.7" height="0.86" fill="#6e9af0"/><rect x="44.44" y="664.96" width="7.7" height="5.15" fill="#e826be"/><rect x="54.57" y="682.55" width="7.7" height="18.45" fill="#f01414"/><rect x="54.57" y="660.67" width="7.7" height="21.88" fill="#22f022"/><rect x="54.57" y="657.67" width="7.7" height="3.00" fill="#6e9af0"/><rect x="54.57" y="656.38" width="7.7" height="1.29" fill="#e826be"/><rect x="64.71" y="682.55" width="7.7" height="18.45" fill="#f01414"/><rect x="64.71" y="632.36" width="7.7" height="50.19" fill="#22f022"/><rect x="64.71" y="631.07" width="7.7" height="1.29" fill="#6e9af0"/><rect x="64.71" y="629.79" width="7.7" height="1.29" fill="#e826be"/><rect x="74.84" y="685.13" width="7.7" height="15.87" fill="#f01414"/><rect x="74.84" y="660.67" width="7.7" height="24.45" fill="#22f022"/><rect x="74.84" y="659.82" width="7.7" height="0.86" fill="#6e9af0"/><rect x="74.84" y="650.38" width="7.7" height="9.44" fill="#e826be"/><rect x="84.98" y="685.13" width="7.7" height="15.87" fill="#f01414"/><rect x="84.98" y="661.96" width="7.7" height="23.17" fill="#22f022"/><rect x="84.98" y="660.67" width="7.7" height="1.29" fill="#6e9af0"/><rect x="84.98" y="650.38" width="7.7" height="10.30" fill="#e826be"/><rect x="95.12" y="685.56" width="7.7" height="15.44" fill="#f01414"/><rect x="95.12" y="666.25" width="7.7" height="19.31" fill="#22f022"/><rect x="95.12" y="663.68" width="7.7" height="2.57" fill="#6e9af0"/><rect x="95.12" y="657.67" width="7.7" height="6.01" fill="#e826be"/><rect x="105.25" y="677.40" width="7.7" height="23.60" fill="#f01414"/><rect x="105.25" y="613.91" width="7.7" height="63.49" fill="#22f022"/><rect x="105.25" y="609.62" width="7.7" height="4.29" fill="#6e9af0"/><rect x="105.25" y="589.89" width="7.7" height="19.73" fill="#e826be"/><rect x="115.39" y="679.55" width="7.7" height="21.45" fill="#f01414"/><rect x="115.39" y="631.50" width="7.7" height="48.05" fill="#22f022"/><rect x="115.39" y="628.50" width="7.7" height="3.00" fill="#6e9af0"/><rect x="115.39" y="615.63" width="7.7" height="12.87" fill="#e826be"/><rect x="125.52" y="678.69" width="7.7" height="22.31" fill="#f01414"/><rect x="125.52" y="661.96" width="7.7" height="16.73" fill="#22f022"/><rect x="125.52" y="656.81" width="7.7" height="5.15" fill="#6e9af0"/><rect x="135.66" y="683.84" width="7.7" height="17.16" fill="#f01414"/><rect x="135.66" y="639.22" width="7.7" height="44.62" fill="#22f022"/><rect x="135.66" y="637.08" width="7.7" height="2.15" fill="#6e9af0"/><rect x="145.80" y="679.12" width="7.7" height="21.88" fill="#f01414"/><rect x="145.80" y="661.96" width="7.7" height="17.16" fill="#22f022"/><rect x="145.80" y="656.81" width="7.7" height="5.15" fill="#6e9af0"/><rect x="155.93" y="685.13" width="7.7" height="15.87" fill="#f01414"/><rect x="155.93" y="671.83" width="7.7" height="13.30" fill="#22f022"/><rect x="155.93" y="667.97" width="7.7" height="3.86" fill="#6e9af0"/><rect x="166.07" y="688.99" width="7.7" height="12.01" fill="#f01414"/><rect x="166.07" y="675.69" width="7.7" height="13.30" fill="#22f022"/><rect x="176.20" y="686.41" width="7.7" height="14.59" fill="#f01414"/><rect x="176.20" y="679.12" width="7.7" height="7.29" fill="#22f022"/><rect x="176.20" y="673.12" width="7.7" height="6.01" fill="#6e9af0"/><rect x="186.34" y="674.83" width="7.7" height="26.17" fill="#f01414"/><rect x="186.34" y="641.80" width="7.7" height="33.03" fill="#22f022"/><rect x="186.34" y="639.65" width="7.7" height="2.14" fill="#6e9af0"/><rect x="196.48" y="688.13" width="7.7" height="12.87" fill="#f01414"/><rect x="196.48" y="655.53" width="7.7" height="32.60" fill="#22f022"/><rect x="206.61" y="689.42" width="7.7" height="11.58" fill="#f01414"/><rect x="206.61" y="663.68" width="7.7" height="25.74" fill="#22f022"/><rect x="206.61" y="660.67" width="7.7" height="3.00" fill="#6e9af0"/><rect x="206.61" y="658.53" width="7.7" height="2.14" fill="#e826be"/><rect x="216.75" y="679.98" width="7.7" height="21.02" fill="#f01414"/><rect x="216.75" y="656.81" width="7.7" height="23.17" fill="#22f022"/><rect x="216.75" y="646.95" width="7.7" height="9.87" fill="#6e9af0"/><rect x="216.75" y="640.94" width="7.7" height="6.01" fill="#e826be"/><rect x="226.88" y="675.69" width="7.7" height="25.31" fill="#f01414"/><rect x="226.88" y="650.38" width="7.7" height="25.31" fill="#22f022"/><rect x="226.88" y="646.09" width="7.7" height="4.29" fill="#6e9af0"/><rect x="226.88" y="640.08" width="7.7" height="6.01" fill="#e826be"/><rect x="237.02" y="676.98" width="7.7" height="24.02" fill="#f01414"/><rect x="237.02" y="650.81" width="7.7" height="26.17" fill="#22f022"/><rect x="237.02" y="644.80" width="7.7" height="6.01" fill="#6e9af0"/><rect x="237.02" y="642.23" width="7.7" height="2.57" fill="#e826be"/><rect x="247.16" y="683.84" width="7.7" height="17.16" fill="#f01414"/><rect x="247.16" y="653.81" width="7.7" height="30.03" fill="#22f022"/><rect x="247.16" y="646.09" width="7.7" height="7.72" fill="#6e9af0"/><rect x="247.16" y="643.94" width="7.7" height="2.14" fill="#e826be"/><rect x="257.29" y="685.99" width="7.7" height="15.01" fill="#f01414"/><rect x="257.29" y="659.39" width="7.7" height="26.60" fill="#22f022"/><rect x="257.29" y="657.24" width="7.7" height="2.14" fill="#6e9af0"/><rect x="257.29" y="655.53" width="7.7" height="1.72" fill="#e826be"/><rect x="267.43" y="685.99" width="7.7" height="15.01" fill="#f01414"/><rect x="267.43" y="650.38" width="7.7" height="35.61" fill="#22f022"/><rect x="277.56" y="664.53" width="7.7" height="36.47" fill="#f01414"/><rect x="277.56" y="628.07" width="7.7" height="36.46" fill="#22f022"/><rect x="277.56" y="615.63" width="7.7" height="12.44" fill="#6e9af0"/><rect x="287.70" y="678.26" width="7.7" height="22.74" fill="#f01414"/><rect x="287.70" y="649.09" width="7.7" height="29.17" fill="#22f022"/><rect x="287.70" y="644.80" width="7.7" height="4.29" fill="#6e9af0"/><rect x="297.84" y="670.97" width="7.7" height="30.03" fill="#f01414"/><rect x="297.84" y="616.49" width="7.7" height="54.48" fill="#22f022"/><rect x="297.84" y="609.19" width="7.7" height="7.29" fill="#6e9af0"/><rect x="307.97" y="667.11" width="7.7" height="33.89" fill="#f01414"/><rect x="307.97" y="633.65" width="7.7" height="33.46" fill="#22f022"/><rect x="307.97" y="632.36" width="7.7" height="1.29" fill="#6e9af0"/><rect x="307.97" y="629.36" width="7.7" height="3.00" fill="#e826be"/><rect x="318.11" y="682.55" width="7.7" height="18.45" fill="#f01414"/><rect x="318.11" y="663.68" width="7.7" height="18.88" fill="#22f022"/><rect x="318.11" y="649.52" width="7.7" height="14.16" fill="#6e9af0"/><rect x="328.24" y="681.27" width="7.7" height="19.73" fill="#f01414"/><rect x="328.24" y="659.39" width="7.7" height="21.88" fill="#22f022"/><rect x="328.24" y="656.81" width="7.7" height="2.57" fill="#6e9af0"/><rect x="338.38" y="668.83" width="7.7" height="32.17" fill="#f01414"/><rect x="338.38" y="639.22" width="7.7" height="29.60" fill="#22f022"/><rect x="338.38" y="631.93" width="7.7" height="7.29" fill="#6e9af0"/><rect x="338.38" y="623.35" width="7.7" height="8.58" fill="#e826be"/><rect x="348.52" y="684.70" width="7.7" height="16.30" fill="#f01414"/><rect x="348.52" y="643.09" width="7.7" height="41.61" fill="#22f022"/><rect x="348.52" y="640.08" width="7.7" height="3.00" fill="#6e9af0"/><rect x="348.52" y="636.22" width="7.7" height="3.86" fill="#e826be"/><rect x="358.65" y="679.12" width="7.7" height="21.88" fill="#f01414"/><rect x="358.65" y="643.09" width="7.7" height="36.04" fill="#22f022"/><rect x="358.65" y="633.22" width="7.7" height="9.87" fill="#6e9af0"/><rect x="358.65" y="631.93" width="7.7" height="1.29" fill="#e826be"/><rect x="368.79" y="670.97" width="7.7" height="30.03" fill="#f01414"/><rect x="368.79" y="619.49" width="7.7" height="51.48" fill="#22f022"/><rect x="368.79" y="614.77" width="7.7" height="4.72" fill="#6e9af0"/><rect x="368.79" y="608.76" width="7.7" height="6.01" fill="#e826be"/><rect x="378.92" y="669.68" width="7.7" height="31.32" fill="#f01414"/><rect x="378.92" y="639.22" width="7.7" height="30.46" fill="#22f022"/><rect x="378.92" y="634.08" width="7.7" height="5.15" fill="#6e9af0"/><rect x="378.92" y="633.22" width="7.7" height="0.86" fill="#e826be"/><rect x="389.06" y="664.96" width="7.7" height="36.04" fill="#f01414"/><rect x="389.06" y="632.36" width="7.7" height="32.60" fill="#22f022"/><rect x="389.06" y="631.93" width="7.7" height="0.43" fill="#6e9af0"/><rect x="399.20" y="658.53" width="7.7" height="42.47" fill="#f01414"/><rect x="399.20" y="618.63" width="7.7" height="39.90" fill="#22f022"/><rect x="399.20" y="617.77" width="7.7" height="0.86" fill="#6e9af0"/><rect x="399.20" y="612.20" width="7.7" height="5.58" fill="#e826be"/><rect x="409.33" y="672.69" width="7.7" height="28.31" fill="#f01414"/><rect x="409.33" y="622.06" width="7.7" height="50.62" fill="#22f022"/><rect x="409.33" y="619.49" width="7.7" height="2.57" fill="#6e9af0"/><rect x="409.33" y="616.92" width="7.7" height="2.57" fill="#e826be"/><rect x="419.47" y="661.96" width="7.7" height="39.04" fill="#f01414"/><rect x="419.47" y="635.36" width="7.7" height="26.60" fill="#22f022"/><rect x="419.47" y="625.92" width="7.7" height="9.44" fill="#6e9af0"/><rect x="429.60" y="668.83" width="7.7" height="32.17" fill="#f01414"/><rect x="429.60" y="627.21" width="7.7" height="41.61" fill="#22f022"/><rect x="429.60" y="624.21" width="7.7" height="3.00" fill="#6e9af0"/><rect x="429.60" y="622.49" width="7.7" height="1.72" fill="#e826be"/><rect x="439.74" y="667.11" width="7.7" height="33.89" fill="#f01414"/><rect x="439.74" y="598.04" width="7.7" height="69.07" fill="#22f022"/><rect x="439.74" y="595.89" width="7.7" height="2.14" fill="#6e9af0"/><rect x="449.88" y="679.98" width="7.7" height="21.02" fill="#f01414"/><rect x="449.88" y="643.94" width="7.7" height="36.04" fill="#22f022"/><rect x="449.88" y="640.94" width="7.7" height="3.00" fill="#6e9af0"/><rect x="449.88" y="639.65" width="7.7" height="1.29" fill="#e826be"/><rect x="460.01" y="681.27" width="7.7" height="19.73" fill="#f01414"/><rect x="460.01" y="648.66" width="7.7" height="32.60" fill="#22f022"/><rect x="460.01" y="647.80" width="7.7" height="0.86" fill="#6e9af0"/><rect x="460.01" y="643.94" width="7.7" height="3.86" fill="#e826be"/><rect x="470.15" y="681.27" width="7.7" height="19.73" fill="#f01414"/><rect x="470.15" y="646.09" width="7.7" height="35.18" fill="#22f022"/><rect x="470.15" y="643.09" width="7.7" height="3.00" fill="#6e9af0"/><rect x="470.15" y="634.93" width="7.7" height="8.15" fill="#e826be"/><rect x="480.28" y="651.66" width="7.7" height="49.34" fill="#f01414"/><rect x="480.28" y="615.63" width="7.7" height="36.04" fill="#22f022"/><rect x="480.28" y="612.63" width="7.7" height="3.00" fill="#6e9af0"/><rect x="480.28" y="604.90" width="7.7" height="7.72" fill="#e826be"/><rect x="490.42" y="669.68" width="7.7" height="31.32" fill="#f01414"/><rect x="490.42" y="616.49" width="7.7" height="53.20" fill="#22f022"/><rect x="490.42" y="609.62" width="7.7" height="6.86" fill="#6e9af0"/><rect x="490.42" y="605.33" width="7.7" height="4.29" fill="#e826be"/><rect x="500.56" y="676.12" width="7.7" height="24.88" fill="#f01414"/><rect x="500.56" y="656.81" width="7.7" height="19.31" fill="#22f022"/><rect x="500.56" y="653.38" width="7.7" height="3.43" fill="#6e9af0"/><rect x="510.69" y="633.22" width="7.7" height="67.78" fill="#f01414"/><rect x="510.69" y="601.47" width="7.7" height="31.75" fill="#22f022"/><rect x="510.69" y="598.90" width="7.7" height="2.57" fill="#6e9af0"/><rect x="510.69" y="595.89" width="7.7" height="3.00" fill="#e826be"/><rect x="520.83" y="664.96" width="7.7" height="36.04" fill="#f01414"/><rect x="520.83" y="621.63" width="7.7" height="43.33" fill="#22f022"/><rect x="520.83" y="621.21" width="7.7" height="0.43" fill="#6e9af0"/><rect x="520.83" y="619.49" width="7.7" height="1.72" fill="#e826be"/><rect x="530.96" y="664.96" width="7.7" height="36.04" fill="#f01414"/><rect x="530.96" y="627.21" width="7.7" height="37.75" fill="#22f022"/><rect x="530.96" y="625.92" width="7.7" height="1.29" fill="#6e9af0"/><rect x="541.10" y="655.53" width="7.7" height="45.47" fill="#f01414"/><rect x="541.10" y="615.63" width="7.7" height="39.90" fill="#22f022"/><rect x="541.10" y="609.62" width="7.7" height="6.01" fill="#6e9af0"/><rect x="541.10" y="607.05" width="7.7" height="2.57" fill="#e826be"/><rect x="551.24" y="666.25" width="7.7" height="34.75" fill="#f01414"/><rect x="551.24" y="639.22" width="7.7" height="27.03" fill="#22f022"/><rect x="551.24" y="636.22" width="7.7" height="3.00" fill="#e826be"/><rect x="561.37" y="666.25" width="7.7" height="34.75" fill="#f01414"/><rect x="561.37" y="629.36" width="7.7" height="36.89" fill="#22f022"/><rect x="561.37" y="622.49" width="7.7" height="6.86" fill="#6e9af0"/><rect x="561.37" y="613.48" width="7.7" height="9.01" fill="#e826be"/><rect x="571.51" y="659.39" width="7.7" height="41.61" fill="#f01414"/><rect x="571.51" y="641.80" width="7.7" height="17.59" fill="#22f022"/><rect x="571.51" y="639.22" width="7.7" height="2.57" fill="#6e9af0"/><rect x="571.51" y="629.36" width="7.7" height="9.87" fill="#e826be"/><rect x="581.64" y="668.83" width="7.7" height="32.17" fill="#f01414"/><rect x="581.64" y="631.07" width="7.7" height="37.75" fill="#22f022"/><rect x="581.64" y="625.50" width="7.7" height="5.58" fill="#6e9af0"/><rect x="581.64" y="608.76" width="7.7" height="16.73" fill="#e826be"/><rect x="591.78" y="658.53" width="7.7" height="42.47" fill="#f01414"/><rect x="591.78" y="637.08" width="7.7" height="21.45" fill="#22f022"/><rect x="591.78" y="631.93" width="7.7" height="5.15" fill="#e826be"/><rect x="601.92" y="658.10" width="7.7" height="42.90" fill="#f01414"/><rect x="601.92" y="622.49" width="7.7" height="35.61" fill="#22f022"/><rect x="601.92" y="620.35" width="7.7" height="2.14" fill="#e826be"/><rect x="612.05" y="667.54" width="7.7" height="33.46" fill="#f01414"/><rect x="612.05" y="613.48" width="7.7" height="54.05" fill="#22f022"/><rect x="612.05" y="611.77" width="7.7" height="1.72" fill="#e826be"/><rect x="622.19" y="657.24" width="7.7" height="43.76" fill="#f01414"/><rect x="622.19" y="614.77" width="7.7" height="42.47" fill="#22f022"/><rect x="622.19" y="611.34" width="7.7" height="3.43" fill="#e826be"/><rect x="632.32" y="649.95" width="7.7" height="51.05" fill="#f01414"/><rect x="632.32" y="604.90" width="7.7" height="45.04" fill="#22f022"/><rect x="632.32" y="598.90" width="7.7" height="6.01" fill="#6e9af0"/><rect x="632.32" y="595.04" width="7.7" height="3.86" fill="#e826be"/><rect x="642.46" y="637.94" width="7.7" height="63.06" fill="#f01414"/><rect x="642.46" y="579.16" width="7.7" height="58.77" fill="#22f022"/><rect x="642.46" y="575.30" width="7.7" height="3.86" fill="#6e9af0"/><rect x="642.46" y="568.87" width="7.7" height="6.44" fill="#e826be"/><rect x="652.60" y="658.10" width="7.7" height="42.90" fill="#f01414"/><rect x="652.60" y="612.20" width="7.7" height="45.90" fill="#22f022"/><rect x="652.60" y="610.91" width="7.7" height="1.29" fill="#6e9af0"/><rect x="652.60" y="602.33" width="7.7" height="8.58" fill="#e826be"/><rect x="662.73" y="610.91" width="7.7" height="90.09" fill="#f01414"/><rect x="662.73" y="582.17" width="7.7" height="28.74" fill="#22f022"/><rect x="662.73" y="579.16" width="7.7" height="3.00" fill="#6e9af0"/><rect x="662.73" y="572.30" width="7.7" height="6.86" fill="#e826be"/><rect x="672.87" y="601.90" width="7.7" height="99.10" fill="#f01414"/><rect x="672.87" y="538.41" width="7.7" height="63.49" fill="#22f022"/><rect x="672.87" y="535.41" width="7.7" height="3.00" fill="#6e9af0"/><rect x="672.87" y="516.96" width="7.7" height="18.45" fill="#e826be"/><rect x="683.00" y="606.62" width="7.7" height="94.38" fill="#f01414"/><rect x="683.00" y="534.12" width="7.7" height="72.50" fill="#22f022"/><rect x="683.00" y="532.40" width="7.7" height="1.72" fill="#6e9af0"/><rect x="683.00" y="513.53" width="7.7" height="18.88" fill="#e826be"/><rect x="693.14" y="625.07" width="7.7" height="75.93" fill="#f01414"/><rect x="693.14" y="605.33" width="7.7" height="19.73" fill="#22f022"/><rect x="693.14" y="603.19" width="7.7" height="2.14" fill="#6e9af0"/><rect x="693.14" y="585.17" width="7.7" height="18.02" fill="#e826be"/><rect x="703.28" y="614.77" width="7.7" height="86.23" fill="#f01414"/><rect x="703.28" y="590.32" width="7.7" height="24.45" fill="#22f022"/><rect x="703.28" y="586.03" width="7.7" height="4.29" fill="#6e9af0"/><rect x="703.28" y="569.73" width="7.7" height="16.30" fill="#e826be"/><rect x="713.41" y="616.92" width="7.7" height="84.08" fill="#f01414"/><rect x="713.41" y="609.19" width="7.7" height="7.72" fill="#22f022"/><rect x="713.41" y="604.05" width="7.7" height="5.15" fill="#6e9af0"/><rect x="713.41" y="598.04" width="7.7" height="6.01" fill="#e826be"/><rect x="723.55" y="632.79" width="7.7" height="68.21" fill="#f01414"/><rect x="723.55" y="625.92" width="7.7" height="6.86" fill="#22f022"/><rect x="723.55" y="624.64" width="7.7" height="1.29" fill="#6e9af0"/><rect x="723.55" y="622.92" width="7.7" height="1.72" fill="#e826be"/><rect x="733.68" y="650.38" width="7.7" height="50.62" fill="#f01414"/><rect x="733.68" y="636.65" width="7.7" height="13.73" fill="#22f022"/><rect x="733.68" y="635.36" width="7.7" height="1.29" fill="#6e9af0"/><rect x="733.68" y="628.93" width="7.7" height="6.44" fill="#e826be"/><rect x="743.82" y="618.20" width="7.7" height="82.80" fill="#f01414"/><rect x="743.82" y="610.91" width="7.7" height="7.29" fill="#22f022"/><rect x="743.82" y="609.19" width="7.7" height="1.72" fill="#6e9af0"/><rect x="743.82" y="600.61" width="7.7" height="8.58" fill="#e826be"/><rect x="753.96" y="616.06" width="7.7" height="84.94" fill="#f01414"/><rect x="753.96" y="600.61" width="7.7" height="15.44" fill="#22f022"/><rect x="753.96" y="591.61" width="7.7" height="9.01" fill="#6e9af0"/><rect x="753.96" y="578.74" width="7.7" height="12.87" fill="#e826be"/><rect x="764.09" y="603.19" width="7.7" height="97.81" fill="#f01414"/><rect x="764.09" y="587.32" width="7.7" height="15.87" fill="#22f022"/><rect x="764.09" y="585.17" width="7.7" height="2.15" fill="#6e9af0"/><rect x="764.09" y="583.45" width="7.7" height="1.72" fill="#e826be"/><rect x="774.23" y="616.06" width="7.7" height="84.94" fill="#f01414"/><rect x="774.23" y="602.33" width="7.7" height="13.73" fill="#22f022"/><rect x="774.23" y="598.04" width="7.7" height="4.29" fill="#6e9af0"/><rect x="784.36" y="641.80" width="7.7" height="59.20" fill="#f01414"/><rect x="784.36" y="614.77" width="7.7" height="27.03" fill="#22f022"/><rect x="784.36" y="613.48" width="7.7" height="1.29" fill="#6e9af0"/><rect x="794.50" y="654.67" width="7.7" height="46.33" fill="#f01414"/><rect x="794.50" y="636.65" width="7.7" height="18.02" fill="#22f022"/><rect x="794.50" y="622.92" width="7.7" height="13.73" fill="#6e9af0"/><rect x="794.50" y="620.35" width="7.7" height="2.57" fill="#e826be"/><rect x="804.64" y="636.65" width="7.7" height="64.35" fill="#f01414"/><rect x="804.64" y="612.63" width="7.7" height="24.02" fill="#22f022"/><rect x="804.64" y="608.76" width="7.7" height="3.86" fill="#6e9af0"/><rect x="804.64" y="603.19" width="7.7" height="5.58" fill="#e826be"/><rect x="814.77" y="649.95" width="7.7" height="51.05" fill="#f01414"/><rect x="814.77" y="617.77" width="7.7" height="32.17" fill="#22f022"/><rect x="814.77" y="608.76" width="7.7" height="9.01" fill="#6e9af0"/><rect x="814.77" y="598.90" width="7.7" height="9.87" fill="#e826be"/><rect x="824.91" y="652.52" width="7.7" height="48.48" fill="#f01414"/><rect x="824.91" y="632.79" width="7.7" height="19.73" fill="#22f022"/><rect x="824.91" y="628.50" width="7.7" height="4.29" fill="#6e9af0"/><rect x="824.91" y="628.07" width="7.7" height="0.43" fill="#e826be"/><rect x="835.04" y="620.78" width="7.7" height="80.22" fill="#f01414"/><rect x="835.04" y="599.76" width="7.7" height="21.02" fill="#22f022"/><rect x="835.04" y="594.18" width="7.7" height="5.58" fill="#6e9af0"/><rect x="835.04" y="592.89" width="7.7" height="1.29" fill="#e826be"/><rect x="845.18" y="626.35" width="7.7" height="74.65" fill="#f01414"/><rect x="845.18" y="586.89" width="7.7" height="39.47" fill="#22f022"/><rect x="845.18" y="569.73" width="7.7" height="17.16" fill="#6e9af0"/><rect x="845.18" y="563.72" width="7.7" height="6.01" fill="#e826be"/><rect x="855.32" y="585.17" width="7.7" height="115.83" fill="#f01414"/><rect x="855.32" y="538.41" width="7.7" height="46.76" fill="#22f022"/><rect x="855.32" y="530.26" width="7.7" height="8.15" fill="#6e9af0"/><rect x="855.32" y="525.97" width="7.7" height="4.29" fill="#e826be"/><rect x="865.45" y="610.91" width="7.7" height="90.09" fill="#f01414"/><rect x="865.45" y="547.85" width="7.7" height="63.06" fill="#22f022"/><rect x="865.45" y="539.70" width="7.7" height="8.15" fill="#6e9af0"/><rect x="865.45" y="519.53" width="7.7" height="20.16" fill="#e826be"/><rect x="875.59" y="614.34" width="7.7" height="86.66" fill="#f01414"/><rect x="875.59" y="597.18" width="7.7" height="17.16" fill="#22f022"/><rect x="875.59" y="589.03" width="7.7" height="8.15" fill="#6e9af0"/><rect x="875.59" y="584.74" width="7.7" height="4.29" fill="#e826be"/><rect x="885.72" y="580.45" width="7.7" height="120.55" fill="#f01414"/><rect x="885.72" y="562.86" width="7.7" height="17.59" fill="#22f022"/><rect x="895.86" y="634.50" width="7.7" height="66.50" fill="#f01414"/><rect x="895.86" y="612.20" width="7.7" height="22.31" fill="#22f022"/><rect x="906.00" y="618.20" width="7.7" height="82.80" fill="#f01414"/><rect x="906.00" y="562.43" width="7.7" height="55.77" fill="#22f022"/><rect x="906.00" y="547.85" width="7.7" height="14.59" fill="#6e9af0"/><rect x="916.13" y="627.21" width="7.7" height="73.79" fill="#f01414"/><rect x="916.13" y="587.32" width="7.7" height="39.90" fill="#22f022"/><rect x="916.13" y="586.03" width="7.7" height="1.29" fill="#6e9af0"/>
<polyline fill="none" stroke="#e0e0e0" stroke-width="1.8" points="38.1,615.2 149.6,615.2 159.8,609.8 271.3,609.8 281.4,603.1 392.9,603.1 403.0,599.6 514.5,599.6 524.7,599.0 636.2,599.0 646.3,591.8 757.8,591.8 767.9,591.0 879.4,591.0 889.6,590.5 924.3,590.5"/>
<text x="187.5" y="25.6" font-family="Liberation Sans, sans-serif" font-size="29.5" font-weight="bold" fill="#160e68" text-anchor="start" textLength="86.44" lengthAdjust="spacingAndGlyphs" >CHINA</text>
<text x="288.0" y="25.6" font-family="Liberation Sans, sans-serif" font-size="29.5" font-weight="bold" fill="#160e68" text-anchor="start" textLength="75.16" lengthAdjust="spacingAndGlyphs" >INDIA</text>
<text x="374.9" y="25.6" font-family="Liberation Sans, sans-serif" font-size="29.5" font-weight="bold" fill="#160e68" text-anchor="start" textLength="102.76" lengthAdjust="spacingAndGlyphs" >RUSSIA</text>
<text x="489.8" y="25.6" font-family="Liberation Sans, sans-serif" font-size="29.5" font-weight="bold" fill="#160e68" text-anchor="start" textLength="114.34" lengthAdjust="spacingAndGlyphs" >TURKEY</text>
<text x="615.4" y="25.6" font-family="Liberation Sans, sans-serif" font-size="29.5" font-weight="bold" fill="#160e68" text-anchor="start" textLength="77.06" lengthAdjust="spacingAndGlyphs" >GOLD</text>
<text x="706.2" y="25.6" font-family="Liberation Sans, sans-serif" font-size="29.5" font-weight="bold" fill="#160e68" text-anchor="start" textLength="119.87" lengthAdjust="spacingAndGlyphs" >DEMAND</text>
<text x="451.0" y="52.7" font-family="Liberation Sans, sans-serif" font-size="16" font-weight="bold" fill="#1a18a8" text-anchor="start" textLength="117.97" lengthAdjust="spacingAndGlyphs" filter="url(#bl)">Tonnes of Gold</text>
<text x="46.3" y="76.3" font-family="Liberation Sans, sans-serif" font-size="14.5" fill="#e2d8b8" text-anchor="start" textLength="65.22" lengthAdjust="spacingAndGlyphs" >Apr&#160;&#160;2015</text>
<text x="445.1" y="76.1" font-family="Liberation Sans, sans-serif" font-size="14.5" fill="#e2d8b8" text-anchor="start" textLength="131.0" lengthAdjust="spacingAndGlyphs" >Cumulative Demand</text>
<text x="680.8" y="76.1" font-family="Liberation Sans, sans-serif" font-size="14.5" fill="#e2d8b8" text-anchor="start" textLength="224.7" lengthAdjust="spacingAndGlyphs" >Total since 2008 = 17,162 Tonnes</text>
<rect x="43" y="84" width="236" height="70" fill="#0c0b0c" fill-opacity="0.82"/>
<line x1="52.2" x2="71.4" y1="94.3" y2="94.3" stroke="#f01414" stroke-width="4.4" stroke-linecap="round"/>
<text x="83.9" y="99.8" font-family="Liberation Sans, sans-serif" font-size="14.5" fill="#e2d8b8" text-anchor="start" textLength="158.12" lengthAdjust="spacingAndGlyphs" >China SGE Withdrawals</text>
<line x1="52.2" x2="71.4" y1="110.8" y2="110.8" stroke="#22f022" stroke-width="4.4" stroke-linecap="round"/>
<text x="84.3" y="116" font-family="Liberation Sans, sans-serif" font-size="14.5" fill="#e2d8b8" text-anchor="start" textLength="87.01" lengthAdjust="spacingAndGlyphs" >India Imports</text>
<line x1="52.2" x2="71.4" y1="127.2" y2="127.2" stroke="#6e9af0" stroke-width="4.4" stroke-linecap="round"/>
<text x="84.0" y="132.4" font-family="Liberation Sans, sans-serif" font-size="14.5" fill="#e2d8b8" text-anchor="start" textLength="120.99" lengthAdjust="spacingAndGlyphs" >Russian Reserves</text>
<line x1="52.2" x2="71.4" y1="143.6" y2="143.6" stroke="#e826be" stroke-width="4.4" stroke-linecap="round"/>
<text x="85.4" y="149.1" font-family="Liberation Sans, sans-serif" font-size="14.5" fill="#e2d8b8" text-anchor="start" textLength="97.91" lengthAdjust="spacingAndGlyphs" >Turkey Imports</text>
<line x1="43" x2="66" y1="500.6" y2="500.6" stroke="#f4f4f4" stroke-width="3"/>
<text x="82.2" y="503.9" font-family="Liberation Sans, sans-serif" font-size="14.5" fill="#e2d8b8" text-anchor="start" textLength="117.39" lengthAdjust="spacingAndGlyphs" >Global Production</text>
<text x="454.9" y="504.3" font-family="Liberation Sans, sans-serif" font-size="14.5" fill="#e2d8b8" text-anchor="start" textLength="110.79" lengthAdjust="spacingAndGlyphs" >Monthly Demand</text>
<text x="741.6" y="505.2" font-family="Liberation Sans, sans-serif" font-size="14.5" fill="#e2d8b8" text-anchor="start" textLength="170.32" lengthAdjust="spacingAndGlyphs" >Latest Month = 268.000 T</text>
<text x="935.8" y="493.0" font-family="Liberation Sans, sans-serif" font-size="16" font-weight="bold" fill="#f0c47c" text-anchor="start" textLength="8.92" lengthAdjust="spacingAndGlyphs" >0</text>
<text x="935.8" y="452.2" font-family="Liberation Sans, sans-serif" font-size="16" font-weight="bold" fill="#f0c47c" text-anchor="start" textLength="37.39" lengthAdjust="spacingAndGlyphs" >2000</text>
<text x="935.8" y="411.5" font-family="Liberation Sans, sans-serif" font-size="16" font-weight="bold" fill="#f0c47c" text-anchor="start" textLength="37.39" lengthAdjust="spacingAndGlyphs" >4000</text>
<text x="935.8" y="370.7" font-family="Liberation Sans, sans-serif" font-size="16" font-weight="bold" fill="#f0c47c" text-anchor="start" textLength="37.39" lengthAdjust="spacingAndGlyphs" >6000</text>
<text x="935.8" y="330.0" font-family="Liberation Sans, sans-serif" font-size="16" font-weight="bold" fill="#f0c47c" text-anchor="start" textLength="37.39" lengthAdjust="spacingAndGlyphs" >8000</text>
<text x="935.8" y="289.2" font-family="Liberation Sans, sans-serif" font-size="16" font-weight="bold" fill="#f0c47c" text-anchor="start" textLength="46.91" lengthAdjust="spacingAndGlyphs" >10000</text>
<text x="935.8" y="248.5" font-family="Liberation Sans, sans-serif" font-size="16" font-weight="bold" fill="#f0c47c" text-anchor="start" textLength="46.91" lengthAdjust="spacingAndGlyphs" >12000</text>
<text x="935.8" y="207.7" font-family="Liberation Sans, sans-serif" font-size="16" font-weight="bold" fill="#f0c47c" text-anchor="start" textLength="46.91" lengthAdjust="spacingAndGlyphs" >14000</text>
<text x="935.8" y="167.0" font-family="Liberation Sans, sans-serif" font-size="16" font-weight="bold" fill="#f0c47c" text-anchor="start" textLength="46.91" lengthAdjust="spacingAndGlyphs" >16000</text>
<text x="935.8" y="126.2" font-family="Liberation Sans, sans-serif" font-size="16" font-weight="bold" fill="#f0c47c" text-anchor="start" textLength="46.91" lengthAdjust="spacingAndGlyphs" >18000</text>
<text x="935.8" y="85.5" font-family="Liberation Sans, sans-serif" font-size="16" font-weight="bold" fill="#f0c47c" text-anchor="start" textLength="46.91" lengthAdjust="spacingAndGlyphs" >20000</text>
<text x="935.9" y="727.1" font-family="Liberation Sans, sans-serif" font-size="16" font-weight="bold" fill="#f0c47c" text-anchor="start" textLength="24.41" lengthAdjust="spacingAndGlyphs" >-50</text>
<text x="935.9" y="706.0" font-family="Liberation Sans, sans-serif" font-size="16" font-weight="bold" fill="#f0c47c" text-anchor="start" textLength="8.92" lengthAdjust="spacingAndGlyphs" >0</text>
<text x="935.9" y="684.9" font-family="Liberation Sans, sans-serif" font-size="16" font-weight="bold" fill="#f0c47c" text-anchor="start" textLength="18.44" lengthAdjust="spacingAndGlyphs" >50</text>
<text x="935.9" y="663.8" font-family="Liberation Sans, sans-serif" font-size="16" font-weight="bold" fill="#f0c47c" text-anchor="start" textLength="27.88" lengthAdjust="spacingAndGlyphs" >100</text>
<text x="935.9" y="642.7" font-family="Liberation Sans, sans-serif" font-size="16" font-weight="bold" fill="#f0c47c" text-anchor="start" textLength="27.88" lengthAdjust="spacingAndGlyphs" >150</text>
<text x="935.9" y="621.6" font-family="Liberation Sans, sans-serif" font-size="16" font-weight="bold" fill="#f0c47c" text-anchor="start" textLength="27.88" lengthAdjust="spacingAndGlyphs" >200</text>
<text x="935.9" y="600.5" font-family="Liberation Sans, sans-serif" font-size="16" font-weight="bold" fill="#f0c47c" text-anchor="start" textLength="27.88" lengthAdjust="spacingAndGlyphs" >250</text>
<text x="935.9" y="579.4" font-family="Liberation Sans, sans-serif" font-size="16" font-weight="bold" fill="#f0c47c" text-anchor="start" textLength="27.88" lengthAdjust="spacingAndGlyphs" >300</text>
<text x="935.9" y="558.3" font-family="Liberation Sans, sans-serif" font-size="16" font-weight="bold" fill="#f0c47c" text-anchor="start" textLength="27.88" lengthAdjust="spacingAndGlyphs" >350</text>
<text x="935.9" y="537.2" font-family="Liberation Sans, sans-serif" font-size="16" font-weight="bold" fill="#f0c47c" text-anchor="start" textLength="27.88" lengthAdjust="spacingAndGlyphs" >400</text>
<text x="935.9" y="516.1" font-family="Liberation Sans, sans-serif" font-size="16" font-weight="bold" fill="#f0c47c" text-anchor="start" textLength="27.88" lengthAdjust="spacingAndGlyphs" >450</text>
<text font-family="Liberation Sans, sans-serif" font-size="16.5" font-weight="bold" fill="#f0c47c" text-anchor="middle" transform="translate(1006,281) rotate(-90)" textLength="59" lengthAdjust="spacingAndGlyphs">Tonnes</text>
<text font-family="Liberation Sans, sans-serif" font-size="16.5" font-weight="bold" fill="#f0c47c" text-anchor="middle" transform="translate(986.6,607) rotate(-90)" textLength="135" lengthAdjust="spacingAndGlyphs">Monthly Demand</text>
<text x="38.9" y="744.2" font-family="Liberation Sans, sans-serif" font-size="16" font-weight="bold" fill="#f0c47c" text-anchor="middle" >2008</text>
<text x="160.6" y="744.2" font-family="Liberation Sans, sans-serif" font-size="16" font-weight="bold" fill="#f0c47c" text-anchor="middle" >2009</text>
<text x="282.2" y="744.2" font-family="Liberation Sans, sans-serif" font-size="16" font-weight="bold" fill="#f0c47c" text-anchor="middle" >2010</text>
<text x="403.8" y="744.2" font-family="Liberation Sans, sans-serif" font-size="16" font-weight="bold" fill="#f0c47c" text-anchor="middle" >2011</text>
<text x="525.5" y="744.2" font-family="Liberation Sans, sans-serif" font-size="16" font-weight="bold" fill="#f0c47c" text-anchor="middle" >2012</text>
<text x="647.1" y="744.2" font-family="Liberation Sans, sans-serif" font-size="16" font-weight="bold" fill="#f0c47c" text-anchor="middle" >2013</text>
<text x="768.7" y="744.2" font-family="Liberation Sans, sans-serif" font-size="16" font-weight="bold" fill="#f0c47c" text-anchor="middle" >2014</text>
<text x="890.4" y="744.2" font-family="Liberation Sans, sans-serif" font-size="16" font-weight="bold" fill="#f0c47c" text-anchor="middle" >2015</text>
<text x="355.78" y="763.9" font-family="Liberation Sans, sans-serif" font-size="16.4" font-weight="bold" fill="#d8103c" text-anchor="start" textLength="347.68" lengthAdjust="spacingAndGlyphs" >world gold charts &#169; www.goldchartsrus.com</text>
</svg></body></html>
